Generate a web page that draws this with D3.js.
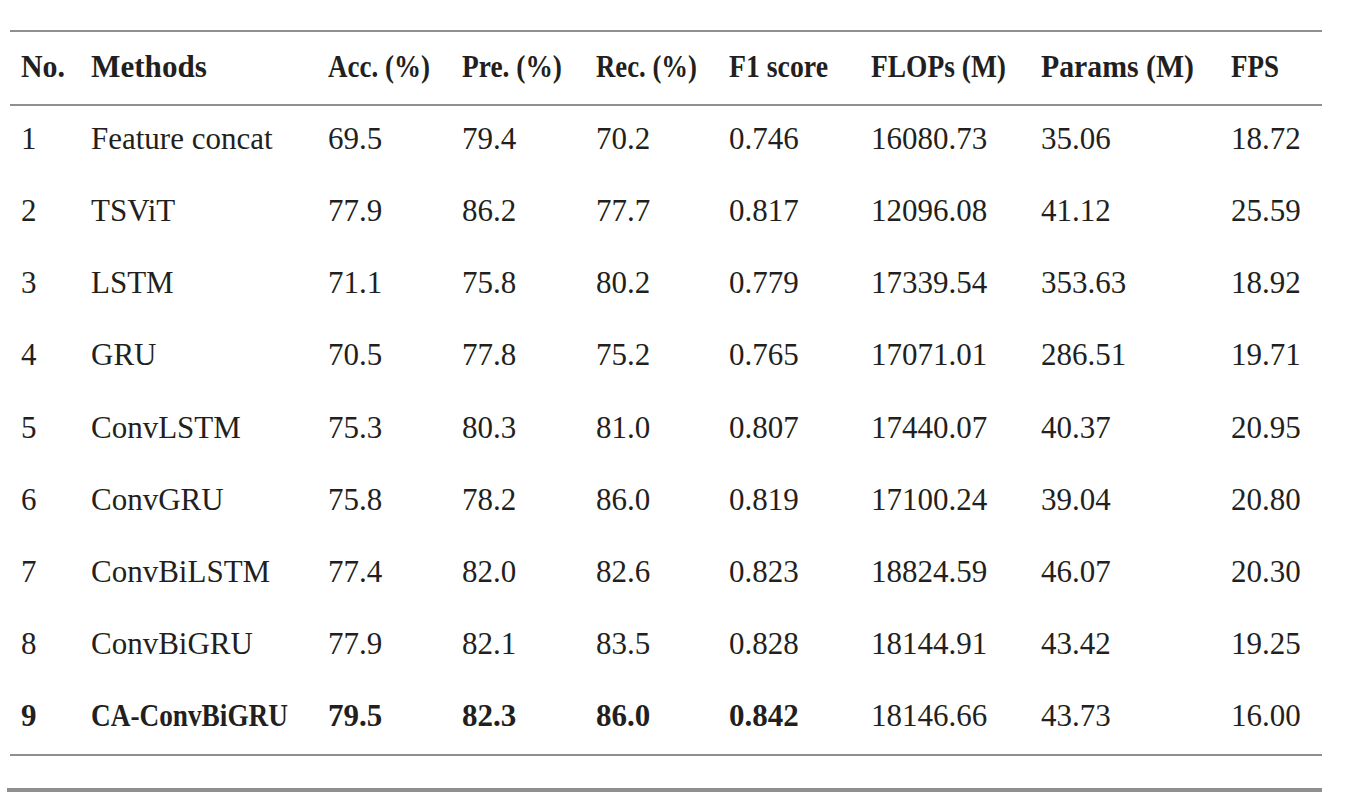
<!DOCTYPE html>
<html>
<head>
<meta charset="utf-8">
<script src="https://cdn.jsdelivr.net/npm/d3@7"></script>
<style>
  body { margin: 0; background: #fff; }
  text { font-family: "Liberation Serif", "Times New Roman", serif; fill: #231f20; }
</style>
</head>
<body>
<div id="content"></div>
<script>
let headers = ["No.", "Methods", "Acc. (%)", "Pre. (%)", "Rec. (%)", "F1 score", "FLOPs (M)", "Params (M)", "FPS"];
let nums = ["1", "2", "3", "4", "5", "6", "7", "8", "9"];
let methods = ["Feature concat", "TSViT", "LSTM", "GRU", "ConvLSTM", "ConvGRU", "ConvBiLSTM", "ConvBiGRU", "CA-ConvBiGRU"];
let acc = ["69.5", "77.9", "71.1", "70.5", "75.3", "75.8", "77.4", "77.9", "79.5"];
let pre = ["79.4", "86.2", "75.8", "77.8", "80.3", "78.2", "82.0", "82.1", "82.3"];
let rec = ["70.2", "77.7", "80.2", "75.2", "81.0", "86.0", "82.6", "83.5", "86.0"];
let f1 = ["0.746", "0.817", "0.779", "0.765", "0.807", "0.819", "0.823", "0.828", "0.842"];
let flops = ["16080.73", "12096.08", "17339.54", "17071.01", "17440.07", "17100.24", "18824.59", "18144.91", "18146.66"];
let params = ["35.06", "41.12", "353.63", "286.51", "40.37", "39.04", "46.07", "43.42", "43.73"];
let fps = ["18.72", "25.59", "18.92", "19.71", "20.95", "20.80", "20.30", "19.25", "16.00"];
// last row is the proposed method, bold in the first six columns
let boldRow = 8;
let boldCols = 6;

let columns = [nums, methods, acc, pre, rec, f1, flops, params, fps];

const width = 1348, height = 804;
const colX = [21, 91, 328, 462, 596, 729, 871, 1041, 1231];
// the original bold face is narrower in capitals, so header words are fitted
const headerW = [44, 116, 102, 100, 101, 99, 135, 153, 48];
const boldMethodW = 197;
const lineLeft = 10, lineRight = 1322;
const fontSize = 31;

let svg = d3.select("#content")
    .append("svg")
    .attr("width", width)
    .attr("height", height);

// rows: header + data rows (baselines)
let rowKeys = ["header"].concat(nums);
let y = d3.scalePoint()
    .domain(rowKeys)
    .range([77, 726]);

// rules
let rules = [
    {y: 31, w: 2},
    {y: 105, w: 2},
    {y: 755, w: 2},
    {y: 790, w: 4}
];
svg.append("g")
    .selectAll("line")
    .data(rules)
    .enter()
    .append("line")
    .attr("x1", (d, i) => i == 3 ? 7 : lineLeft)
    .attr("x2", lineRight)
    .attr("y1", d => d.y)
    .attr("y2", d => d.y)
    .style("stroke", "#8f8f8f")
    .style("stroke-width", d => d.w);

// header
svg.append("g")
    .selectAll("text")
    .data(headers)
    .enter()
    .append("text")
    .attr("x", (d, i) => colX[i])
    .attr("y", y("header"))
    .attr("textLength", (d, i) => headerW[i])
    .attr("lengthAdjust", "spacingAndGlyphs")
    .style("font-size", fontSize + "px")
    .style("font-weight", "bold")
    .text(d => d);

// body
columns.forEach(function (col, c) {
    let cells = svg.append("g")
        .selectAll("text")
        .data(col)
        .enter()
        .append("text")
        .attr("x", colX[c])
        .attr("y", (d, r) => y(nums[r]))
        .style("font-size", fontSize + "px")
        .style("font-weight", (d, r) => (r == boldRow && c < boldCols) ? "bold" : "normal")
        .text(d => d);

    if (c == 1) {
        cells.filter((d, r) => r == boldRow)
            .attr("textLength", boldMethodW)
            .attr("lengthAdjust", "spacingAndGlyphs");
    }
});
</script>
</body>
</html>
